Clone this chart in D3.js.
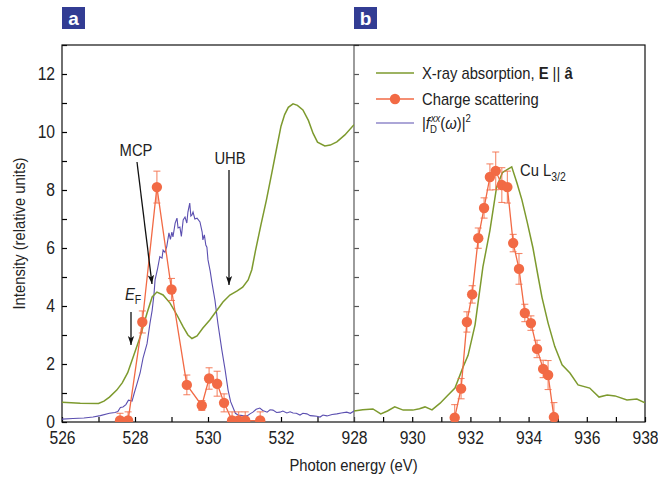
<!DOCTYPE html>
<html>
<head>
<meta charset="utf-8">
<script src="https://cdn.jsdelivr.net/npm/d3@7"></script>
<style>
  body { margin: 0; background: #fff; }
  svg { font-family: "Liberation Sans", Arial, sans-serif; }
  .tick text { font-size: 18px; fill: #222; }
</style>
</head>
<body>
<div id="chart"></div>
<script>
// O K-edge region (panel a)
const xasO = [
  [526, 0.68], [526.5, 0.65], [527.0, 0.64], [527.15, 0.72], [527.3, 0.86], [527.5, 1.1],
  [527.65, 1.35], [527.8, 1.7], [527.95, 2.24], [528.14, 2.93], [528.33, 3.76], [528.47, 4.31],
  [528.6, 4.48], [528.77, 4.38], [528.96, 4.1], [529.15, 3.69], [529.32, 3.28], [529.45, 3.0],
  [529.56, 2.88], [529.7, 2.97], [529.86, 3.24], [530.05, 3.52], [530.25, 3.86], [530.41, 4.14],
  [530.6, 4.38], [530.8, 4.52], [530.95, 4.65], [531.1, 4.9], [531.2, 5.25], [531.3, 5.9],
  [531.45, 6.8], [531.6, 7.65], [531.75, 8.6], [531.89, 9.5], [532.0, 10.2], [532.1, 10.6],
  [532.2, 10.85], [532.33, 10.97], [532.45, 10.92], [532.6, 10.76], [532.75, 10.4], [532.88, 9.95],
  [533.0, 9.65], [533.2, 9.52], [533.35, 9.55], [533.53, 9.66], [533.75, 9.9], [534.0, 10.25]
];

const fD = [
  [526.0, 0.1], [526.3, 0.12], [526.6, 0.14], [526.85, 0.17], [527.05, 0.22], [527.3, 0.3],
  [527.45, 0.33], [527.53, 0.36], [527.6, 0.5], [527.67, 0.52], [527.75, 0.6], [527.82, 0.75],
  [527.92, 0.72], [527.98, 1.0], [528.05, 1.3], [528.14, 1.69], [528.22, 2.2], [528.33, 2.7],
  [528.41, 3.4], [528.47, 3.85], [528.52, 4.4], [528.55, 4.9], [528.62, 5.3], [528.68, 5.7],
  [528.74, 5.65], [528.77, 5.93], [528.82, 5.85], [528.87, 6.05], [528.93, 6.52], [528.97, 6.3],
  [529.01, 6.55], [529.04, 6.38], [529.1, 6.86], [529.15, 7.03], [529.18, 6.69], [529.23, 6.72],
  [529.27, 6.4], [529.32, 6.97], [529.37, 7.07], [529.42, 6.86], [529.45, 7.24], [529.5, 7.55],
  [529.53, 7.1], [529.56, 7.14], [529.59, 7.24], [529.64, 7.0], [529.7, 7.03], [529.78, 6.9],
  [529.84, 6.55], [529.86, 6.28], [529.9, 6.45], [529.94, 6.1], [529.97, 6.03], [530.0, 5.59],
  [530.06, 5.2], [530.11, 4.79], [530.19, 4.2], [530.27, 3.41], [530.33, 2.9], [530.38, 2.48],
  [530.47, 1.79], [530.55, 1.1], [530.62, 0.7], [530.68, 0.52], [530.75, 0.3], [530.82, 0.24],
  [530.95, 0.22], [531.07, 0.21], [531.15, 0.28], [531.23, 0.34], [531.32, 0.44], [531.42, 0.48],
  [531.5, 0.4], [531.62, 0.34], [531.7, 0.42], [531.78, 0.41], [531.88, 0.33], [531.97, 0.34],
  [532.05, 0.38], [532.16, 0.31], [532.25, 0.35], [532.33, 0.31], [532.42, 0.3], [532.52, 0.24],
  [532.6, 0.3], [532.71, 0.28], [532.8, 0.22], [532.88, 0.21], [532.98, 0.2], [533.07, 0.17],
  [533.15, 0.24], [533.26, 0.21], [533.4, 0.26], [533.53, 0.28], [533.65, 0.31], [533.8, 0.34],
  [533.9, 0.3], [534.0, 0.38]
];

// [energy, intensity, error]
const scatO = [
  [527.59, 0.05, 0.25], [527.81, 0.05, 0.3], [528.2, 3.45, 0.38], [528.6, 8.1, 0.55],
  [529.0, 4.57, 0.38], [529.42, 1.28, 0.34], [529.83, 0.57, 0.17], [530.03, 1.5, 0.37],
  [530.25, 1.32, 0.43], [530.44, 0.66, 0.31], [530.66, 0.05, 0.3], [530.84, 0.05, 0.3],
  [531.02, 0.05, 0.3], [531.43, 0.05, 0.3]
];

// Cu L-edge region (panel b)
const xasCu = [
  [928, 0.38], [928.3, 0.42], [928.65, 0.45], [928.92, 0.28], [929.15, 0.38], [929.4, 0.52],
  [929.69, 0.41], [930.02, 0.41], [930.25, 0.46], [930.44, 0.52], [930.68, 0.42], [930.96, 0.65],
  [931.2, 0.9], [931.47, 1.17], [931.75, 1.9], [931.92, 2.3], [932.16, 3.35], [932.43, 5.35],
  [932.67, 6.6], [932.9, 8.1], [933.1, 8.6], [933.42, 8.8], [933.6, 8.24], [933.77, 7.66],
  [933.95, 6.9], [934.15, 6.0], [934.33, 5.0], [934.46, 4.3], [934.67, 3.41], [934.9, 2.6],
  [935.15, 1.97], [935.42, 1.69], [935.7, 1.28], [936.1, 1.17], [936.42, 0.86], [936.7, 0.93],
  [936.97, 0.9], [937.38, 0.76], [937.72, 0.79], [938, 0.66]
];

const scatCu = [
  [931.46, 0.15, 0.45], [931.68, 1.15, 0.35], [931.88, 3.45, 0.35], [932.06, 4.4, 0.3],
  [932.27, 6.34, 0.35], [932.47, 7.38, 0.35], [932.67, 8.45, 0.45], [932.87, 8.66, 0.65],
  [933.08, 8.17, 0.6], [933.27, 8.1, 0.55], [933.47, 6.17, 0.3], [933.67, 5.28, 0.53],
  [933.87, 3.76, 0.3], [934.08, 3.41, 0.25], [934.29, 2.52, 0.3], [934.5, 1.83, 0.3],
  [934.67, 1.62, 0.5], [934.87, 0.17, 0.5]
];

const ticksO = [526, 527, 528, 529, 530, 531, 532, 533];
const ticksCu = [928, 929, 930, 931, 932, 933, 934, 935, 936, 937, 938];
const yTicks = d3.range(0, 14);

const W = 658, H = 479;
const pLeft = 62, pMid = 354, pRight = 645, pTop = 45, pBottom = 422;
const green = "#7d9a2e", orange = "#f26a45", blue = "#5b4fb0", navy = "#323c93";
const narrow = 0.87; // condensed look

const svg = d3.select("#chart").append("svg")
  .attr("width", W).attr("height", H);

const xL = d3.scaleLinear().domain([526, 534]).range([pLeft, pMid]);
const xR = d3.scaleLinear().domain([928, 938]).range([pMid, pRight]);
const y = d3.scaleLinear().domain([0, 13]).range([pBottom, pTop]);

const defs = svg.append("defs");
defs.append("clipPath").attr("id", "clipL").append("rect")
  .attr("x", pLeft).attr("y", pTop).attr("width", pMid - pLeft).attr("height", pBottom - pTop);
defs.append("clipPath").attr("id", "clipR").append("rect")
  .attr("x", pMid).attr("y", pTop).attr("width", pRight - pMid).attr("height", pBottom - pTop);
defs.append("marker").attr("id", "arrow")
  .attr("viewBox", "0 0 10 10").attr("refX", 10).attr("refY", 5)
  .attr("markerWidth", 9).attr("markerHeight", 9).attr("markerUnits", "userSpaceOnUse")
  .attr("orient", "auto")
  .append("path").attr("d", "M0,1.5 L10,5 L0,8.5 L2.5,5 Z").attr("fill", "#111");

// text placed at (x,y), squeezed horizontally
function label(x, y0, size, anchor, rot) {
  return svg.append("g")
    .attr("transform", `translate(${x},${y0})${rot ? ` rotate(${rot})` : ""} scale(${narrow},1)`)
    .append("text").attr("font-size", size).attr("fill", "#222")
    .attr("text-anchor", anchor || "start");
}

// axes
const evenFmt = d => d % 2 === 0 ? d : "";
const squeeze = g => g.selectAll(".tick text").attr("transform", `scale(${narrow},1)`);

svg.append("g")
  .attr("transform", `translate(0,${pBottom})`)
  .call(d3.axisBottom(xL).tickValues(ticksO).tickSize(-5).tickPadding(9).tickFormat(evenFmt))
  .call(g => g.select(".domain").remove())
  .call(squeeze);

svg.append("g")
  .attr("transform", `translate(0,${pBottom})`)
  .call(d3.axisBottom(xR).tickValues(ticksCu).tickSize(-5).tickPadding(9).tickFormat(evenFmt))
  .call(g => g.select(".domain").remove())
  .call(squeeze);

svg.append("g")
  .attr("transform", `translate(${pLeft},0)`)
  .call(d3.axisLeft(y).tickValues(yTicks).tickSize(-5).tickPadding(8).tickFormat(evenFmt))
  .call(g => g.select(".domain").remove())
  .call(squeeze);

svg.append("g")
  .attr("transform", `translate(${pMid},0)`)
  .call(d3.axisRight(y).tickValues(yTicks.slice(1)).tickSize(5).tickFormat(""))
  .call(g => g.select(".domain").remove())
  .call(g => g.selectAll("line").attr("stroke", "#555"));

svg.selectAll(".tick line").attr("stroke-width", 1.2);

// frame and divider
svg.append("line").attr("x1", pMid).attr("x2", pMid).attr("y1", pTop).attr("y2", pBottom)
  .attr("stroke", "#666").attr("stroke-width", 1.3);
svg.append("rect").attr("x", pLeft).attr("y", pTop)
  .attr("width", pRight - pLeft).attr("height", pBottom - pTop)
  .attr("fill", "none").attr("stroke", "#111").attr("stroke-width", 1.2);

// axis titles
label((pLeft + pRight) / 2, 471, 17, "middle").text("Photon energy (eV)");
label(25, (pTop + pBottom) / 2, 17, "middle", -90).text("Intensity (relative units)");

// panel labels
[["a", pLeft], ["b", pMid]].forEach(([t, x0]) => {
  svg.append("rect").attr("x", x0).attr("y", 7).attr("width", 23).attr("height", 22).attr("fill", navy);
  svg.append("text").attr("x", x0 + 11.5).attr("y", 25).attr("text-anchor", "middle")
    .attr("font-weight", "bold").attr("font-size", 19).attr("fill", "#fff").text(t);
});

// curves
function drawPanel(x, clip, xas, scat, fd) {
  const g = svg.append("g").attr("clip-path", `url(#${clip})`);
  const line = d3.line().x(d => x(d[0])).y(d => y(d[1]));
  if (fd) {
    g.append("path").datum(fd).attr("d", line)
      .attr("fill", "none").attr("stroke", blue).attr("stroke-width", 1.1);
  }
  g.append("path").datum(xas).attr("d", line)
    .attr("fill", "none").attr("stroke", green).attr("stroke-width", 1.5);

  const eb = g.append("g").attr("stroke", orange).attr("stroke-opacity", 0.8).attr("stroke-width", 1.1);
  scat.forEach(d => {
    const cx = x(d[0]), y1 = y(d[1] + d[2]), y2 = y(Math.max(d[1] - d[2], 0));
    eb.append("line").attr("x1", cx).attr("x2", cx).attr("y1", y1).attr("y2", y2);
    eb.append("line").attr("x1", cx - 3.5).attr("x2", cx + 3.5).attr("y1", y1).attr("y2", y1);
    eb.append("line").attr("x1", cx - 3.5).attr("x2", cx + 3.5).attr("y1", y2).attr("y2", y2);
  });
  g.append("path").datum(scat).attr("d", line)
    .attr("fill", "none").attr("stroke", orange).attr("stroke-width", 1.3);
  g.selectAll(null).data(scat).enter().append("circle")
    .attr("cx", d => x(d[0])).attr("cy", d => y(d[1])).attr("r", 5.2)
    .attr("fill", orange);
}
drawPanel(xL, "clipL", xasO, scatO, fD);
drawPanel(xR, "clipR", xasCu, scatCu, null);

// annotations
function arrow(x1, y1, x2, y2) {
  svg.append("line").attr("x1", x1).attr("y1", y1).attr("x2", x2).attr("y2", y2)
    .attr("stroke", "#111").attr("stroke-width", 1.3).attr("marker-end", "url(#arrow)");
}
label(136, 156, 17, "middle").text("MCP");
arrow(137, 162, 152, 284);
label(230, 164, 17, "middle").text("UHB");
arrow(229, 170, 229, 285);
const ef = label(125, 300, 17);
ef.append("tspan").attr("font-style", "italic").text("E");
ef.append("tspan").attr("font-size", 12).attr("dy", 4).text("F");
arrow(131, 312, 131, 345);

const cu = label(520, 176, 17);
cu.append("tspan").text("Cu L");
cu.append("tspan").attr("font-size", 12).attr("dy", 5).text("3/2");

// legend
const lx0 = 376, lx1 = 414, tx = 422;
svg.append("line").attr("x1", lx0).attr("x2", lx1).attr("y1", 73).attr("y2", 73)
  .attr("stroke", green).attr("stroke-width", 1.5);
const t1 = label(tx, 79, 17);
t1.append("tspan").text("X-ray absorption, ");
t1.append("tspan").attr("font-weight", "bold").text("E");
t1.append("tspan").text(" || ");
t1.append("tspan").attr("font-weight", "bold").text("â");

svg.append("line").attr("x1", lx0).attr("x2", lx1).attr("y1", 99).attr("y2", 99)
  .attr("stroke", orange).attr("stroke-width", 1.3);
svg.append("circle").attr("cx", (lx0 + lx1) / 2).attr("cy", 99).attr("r", 5.2).attr("fill", orange);
label(tx, 105, 17).text("Charge scattering");

svg.append("line").attr("x1", lx0).attr("x2", lx1).attr("y1", 123).attr("y2", 123)
  .attr("stroke", blue).attr("stroke-width", 1.1);
const t3 = label(tx, 129, 17);
t3.append("tspan").text("|");
t3.append("tspan").attr("font-style", "italic").text("f");
t3.append("tspan").attr("font-size", 11).attr("dy", 4).text("D");
t3.append("tspan").attr("font-size", 11).attr("font-style", "italic").attr("dx", -7).attr("dy", -11).text("xx");
t3.append("tspan").attr("dy", 7).text("(");
t3.append("tspan").attr("font-style", "italic").text("ω");
t3.append("tspan").text(")|");
t3.append("tspan").attr("font-size", 11).attr("dy", -7).text("2");
</script>
</body>
</html>
